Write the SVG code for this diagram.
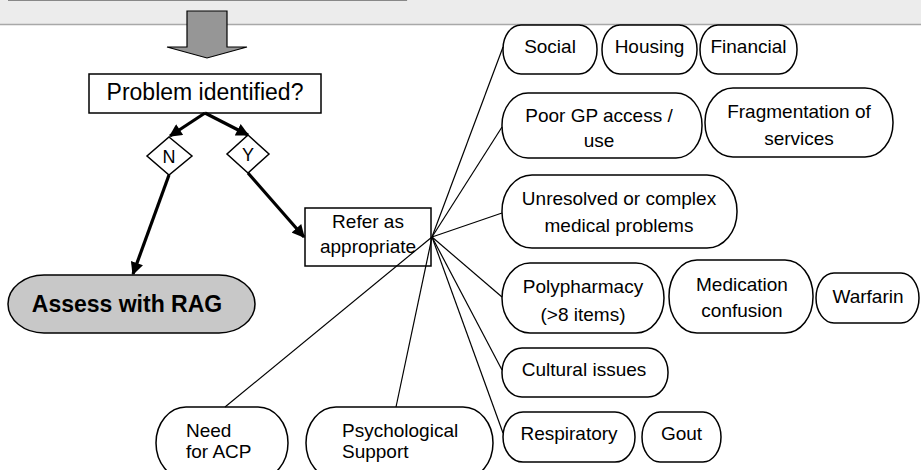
<svg xmlns="http://www.w3.org/2000/svg" width="921" height="470" viewBox="0 0 921 470">
<style>
text{font-family:"Liberation Sans",Arial,sans-serif;font-size:19px;fill:#000}
.c{text-anchor:middle}
.n{fill:#fff;stroke:#000;stroke-width:1.5}
.fan{stroke:#000;stroke-width:1.2;fill:none}
.thick{stroke:#000;stroke-width:3.2;fill:none;marker-end:url(#ah)}
</style>
<defs>
<marker id="ah" viewBox="0 0 10 10" refX="9" refY="5" markerWidth="4.2" markerHeight="4" orient="auto" markerUnits="strokeWidth">
<path d="M0,0 L10,5 L0,10 z" fill="#000"/>
</marker>
</defs>
<rect x="0" y="0" width="921" height="24" fill="#ececec"/>
<line x1="0" y1="24.5" x2="921" y2="24.5" stroke="#a8a8a8" stroke-width="1.5"/>
<polyline points="8,0.5 406.5,0.5 406.5,-2" fill="none" stroke="#888" stroke-width="1.2"/>
<g id="blockarrow">
<path d="M187,11 L227,11 L227,47 L247,47 L207,58 L167,47 L187,47 z" fill="#969696" stroke="#000" stroke-width="1.2"/>
</g>
<g id="problem">
<rect x="89" y="74" width="232" height="39" class="n"/>
<text x="205" y="100" class="c" style="font-size:23px">Problem identified?</text>
</g>
<g id="diamondN">
<path d="M169,137 L192,156 L169,175 L147,156 z" class="n" stroke-width="1.2"/>
<text x="169" y="163" class="c" style="font-size:18px">N</text>
</g>
<g id="diamondY">
<path d="M248,135 L269,154 L248,173 L227,154 z" class="n" stroke-width="1.2"/>
<text x="248" y="161" class="c" style="font-size:18px">Y</text>
</g>
<g id="assess">
<rect x="8" y="275" width="247" height="58" rx="36" ry="29" fill="#c8c8c8" stroke="#000" stroke-width="1.5"/>
<text x="127" y="312" class="c" style="font-size:23px;font-weight:bold">Assess with RAG</text>
</g>
<g id="refer">
<rect x="305" y="208" width="126" height="58" class="n"/>
<text x="368" y="228" class="c">Refer as</text>
<text x="368" y="253" class="c">appropriate</text>
</g>
<g id="social"><rect x="503" y="25" width="94" height="49" rx="18" ry="24" class="n"/><text x="550" y="53" class="c">Social</text></g>
<g id="housing"><rect x="602" y="25" width="95" height="49" rx="18" ry="24" class="n"/><text x="649.5" y="53" class="c">Housing</text></g>
<g id="financial"><rect x="700" y="25" width="97" height="49" rx="18" ry="24" class="n"/><text x="748.5" y="53" class="c">Financial</text></g>
<g id="poorgp"><rect x="502" y="93" width="200" height="65" rx="26" ry="32" class="n"/><text x="599" y="122" class="c">Poor GP access /</text><text x="599" y="147" class="c">use</text></g>
<g id="fragmentation"><rect x="705" y="88" width="188" height="69" rx="28" ry="34" class="n"/><text x="799" y="118" class="c">Fragmentation of</text><text x="799" y="145" class="c">services</text></g>
<g id="unresolved"><rect x="502" y="175" width="235" height="73" rx="30" ry="36" class="n"/><text x="619" y="205" class="c">Unresolved or complex</text><text x="619" y="232" class="c">medical problems</text></g>
<g id="polypharmacy"><rect x="502" y="263" width="162" height="70" rx="28" ry="35" class="n"/><text x="583" y="293" class="c">Polypharmacy</text><text x="583" y="321" class="c">(&gt;8 items)</text></g>
<g id="medication"><rect x="669" y="260" width="144" height="73" rx="28" ry="36" class="n"/><text x="742" y="291" class="c">Medication</text><text x="742" y="317" class="c">confusion</text></g>
<g id="warfarin"><rect x="816" y="273" width="103" height="50" rx="18" ry="25" class="n"/><text x="868" y="303" class="c">Warfarin</text></g>
<g id="cultural"><rect x="502" y="348" width="166" height="49" rx="20" ry="24" class="n"/><text x="584" y="376" class="c">Cultural issues</text></g>
<g id="respiratory"><rect x="503" y="412" width="132" height="50" rx="20" ry="25" class="n"/><text x="569" y="440" class="c">Respiratory</text></g>
<g id="gout"><rect x="642" y="412" width="79" height="50" rx="18" ry="25" class="n"/><text x="681.5" y="440" class="c">Gout</text></g>
<g id="acp"><rect x="156" y="407" width="132" height="72" rx="30" ry="36" class="n"/><text x="186" y="437">Need</text><text x="186" y="458">for ACP</text></g>
<g id="psych"><rect x="306" y="407" width="187" height="72" rx="30" ry="36" class="n"/><text x="342" y="437">Psychological</text><text x="342" y="458">Support</text></g>
<g id="connectors">
<line x1="205" y1="113" x2="170" y2="136" class="thick"/>
<line x1="205" y1="113" x2="248" y2="135" class="thick"/>
<line x1="169" y1="175" x2="133" y2="274" class="thick"/>
<line x1="248" y1="173" x2="304" y2="237" class="thick"/>
<line x1="432" y1="237" x2="503" y2="47" class="fan"/>
<line x1="432" y1="237" x2="502" y2="127" class="fan"/>
<line x1="432" y1="237" x2="502" y2="213" class="fan"/>
<line x1="432" y1="237" x2="502" y2="297" class="fan"/>
<line x1="432" y1="237" x2="502" y2="370" class="fan"/>
<line x1="432" y1="237" x2="503" y2="433" class="fan"/>
<line x1="432" y1="237" x2="225" y2="407" class="fan"/>
<line x1="432" y1="237" x2="396" y2="407" class="fan"/>
</g>
</svg>
